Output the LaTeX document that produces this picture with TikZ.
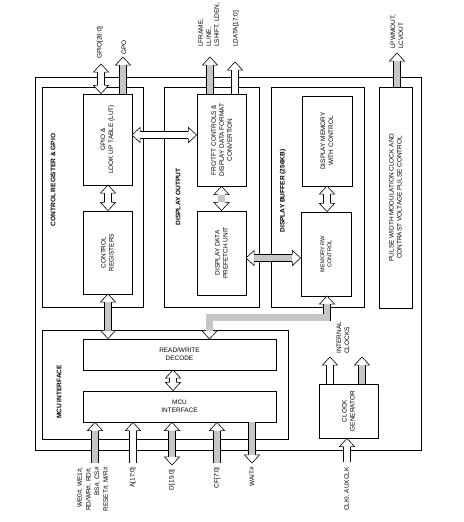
\documentclass[tikz,border=0pt]{standalone}
\usepackage{fontspec}
\setmainfont{Liberation Sans}
\usetikzlibrary{positioning,calc,fit}

\tikzset{
  blk/.style={draw, line width=0.7pt, inner sep=0pt},
  txt/.style={font=\fontsize{5.5}{6.8}\selectfont, align=center, inner sep=0pt},
  vtxt/.style={txt, rotate=90},
  ttl/.style={vtxt, font=\fontsize{5.6}{6.8}\selectfont\bfseries},
  pin/.style={txt, rotate=90, anchor=west, align=left},
  pinb/.style={txt, rotate=90, anchor=east, align=right},
  bus/.style={double=white, double distance=5.4pt, line width=0.5pt},
  busg/.style={bus, double=gray!45},
}

% open head of a fat bus arrow, #1 = point behind, #2 = tip
\newcommand\bushead[2]{%
  \coordinate (hb) at ($(#2)!7pt!(#1)$);
  \filldraw[fill=white, line width=0.5pt]
    ($(hb)!2.95pt!90:(#2)$) -- ($(hb)!6.5pt!90:(#2)$) -- (#2)
    -- ($(hb)!6.5pt!-90:(#2)$) -- ($(hb)!2.95pt!-90:(#2)$);
}
\newcommand\busone[3][bus]{%
  \draw[#1, shorten >=7pt] (#2) -- (#3); \bushead{#2}{#3}}
\newcommand\bustwo[3][bus]{%
  \draw[#1, shorten <=7pt, shorten >=7pt] (#2) -- (#3);
  \bushead{#2}{#3}\bushead{#3}{#2}}

\begin{document}
\begin{tikzpicture}[x=0.03cm, y=-0.03cm]
  \useasboundingbox (0,0) rectangle (463,522);

  % frames
  \node[blk, fit={(35,77) (421,450)}] (chip) {};
  \node[blk, fit={(42,87) (143,307)}] (ctrl) {};
  \node[blk, fit={(164,87) (259,307)}] (dout) {};
  \node[blk, fit={(271,87) (364,307)}] (dbuf) {};
  \node[blk, fit={(379,87) (412,308)}] (pwm) {};
  \node[blk, fit={(42,330) (288,439)}] (mcu) {};

  % blocks
  \node[blk, fit={(83,94) (132,185)}] (lut) {};
  \node[blk, fit={(83,211) (132,294)}] (creg) {};
  \node[blk, fit={(197,94) (246,186)}] (frc) {};
  \node[blk, fit={(197,211) (246,295)}] (pref) {};
  \node[blk, fit={(302,96) (352,186)}] (dmem) {};
  \node[blk, fit={(301,212) (351,296)}] (memrw) {};
  \node[blk, fit={(83,339) (276,370)}] (rwdec) {};
  \node[blk, fit={(83,391) (276,422)}] (mcuif) {};
  \node[blk, fit={(319,384) (378,438)}] (clkgen) {};

  % titles
  \node[ttl] (ctrl-t) at (53,180) {CONTROL REGISTER \& GPIO};
  \node[ttl] (dout-t) at (178,197) {DISPLAY OUTPUT};
  \node[ttl] (dbuf-t) at (283,191) {DISPLAY BUFFER (256KB)};
  \node[ttl] (mcu-t) at (59,392) {MCU INTERFACE};
  \node[vtxt] (pwm-t) at (pwm) {PULSE WIDTH MODULATION CLOCK AND\\CONTRAST VOLTAGE PULSE CONTROL};

  % block texts
  \node[vtxt] (lut-t) at (lut) {GPIO \&\\LOOK UP TABLE (LUT)};
  \node[vtxt] (creg-t) at (creg) {CONTROL\\REGISTERS};
  \node[vtxt] (frc-t) at (frc) {FRC/TFT CONTROLS \&\\DISPLAY DATA FORMAT\\CONVERTION};
  \node[vtxt] (pref-t) at (pref) {DISPLAY DATA\\PREFETCH UNIT};
  \node[vtxt] (dmem-t) at (dmem) {DISPLAY MEMORY\\WITH CONTROL};
  \node[vtxt, font=\fontsize{4.8}{6}\selectfont] (memrw-t) at (memrw) {MEMORY RW\\CONTROL};
  \node[txt] (rwdec-t) at (rwdec) {READ/WRITE\\DECODE};
  \node[txt] (mcuif-t) at (mcuif) {MCU\\INTERFACE};
  \node[vtxt] (clkgen-t) at (clkgen) {CLOCK\\GENERATOR};

  % bus end points
  \coordinate (gpiotip) at (101,64);  \coordinate (gpiobot) at (gpiotip |- lut.north);
  \coordinate (gpotip) at (123,57);   \coordinate (gpobot) at (gpotip |- lut.north);
  \coordinate (lutr) at (132,135);    \coordinate (frcl) at (lutr -| frc.west);
  \coordinate (lutb) at (108,185);    \coordinate (cregt) at (lutb |- creg.north);
  \coordinate (cregb) at (108,294);   \coordinate (rwdt) at (cregb |- rwdec.north);
  \coordinate (lftip) at (210,57);    \coordinate (lfbot) at (lftip |- frc.north);
  \coordinate (ldtip) at (235,62);    \coordinate (ldbot) at (ldtip |- frc.north);
  \coordinate (frcb) at (frc.south);  \coordinate (preft) at (pref.north);
  \coordinate (prefr) at (246,258);   \coordinate (memrwl) at (prefr -| memrw.west);
  \coordinate (dmemb) at (327,186);   \coordinate (memrwt) at (dmemb |- memrw.north);
  \coordinate (pwmtip) at (397,53);   \coordinate (pwmbot) at (pwmtip |- pwm.north);
  \coordinate (memrwb) at (327,296);
  \coordinate (e1) at (327,317.5);    \coordinate (e2) at (209.5,317.5);
  \coordinate (rwdt2) at (209.5,339);
  \coordinate (rwdb) at (173,370);    \coordinate (mcuift) at (rwdb |- mcuif.north);
  \coordinate (we) at (95,463);       \coordinate (wetip) at (we |- mcuif.south);
  \coordinate (adr) at (133,463);     \coordinate (adrtip) at (adr |- mcuif.south);
  \coordinate (dat) at (172,465);     \coordinate (dattop) at (dat |- mcuif.south);
  \coordinate (cf) at (217,463);      \coordinate (cftip) at (cf |- mcuif.south);
  \coordinate (wait) at (252,463);    \coordinate (waittop) at (wait |- mcuif.south);
  \coordinate (ick1) at (330,357);    \coordinate (ick1b) at (ick1 |- clkgen.north);
  \coordinate (ick2) at (362,357);    \coordinate (ick2b) at (ick2 |- clkgen.north);
  \coordinate (clki) at (347,462);    \coordinate (clkitip) at (clki |- clkgen.south);

  % buses
  \bustwo{gpiotip}{gpiobot}
  \busone[busg]{gpobot}{gpotip}
  \bustwo{lutr}{frcl}
  \bustwo{lutb}{cregt}
  \bustwo[busg]{cregb}{rwdt}
  \busone[busg]{lfbot}{lftip}
  \busone{ldbot}{ldtip}
  \bustwo[busg]{frcb}{preft}
  \bustwo[busg]{prefr}{memrwl}
  \bustwo{dmemb}{memrwt}
  \busone[busg]{pwmbot}{pwmtip}
  \draw[busg, shorten <=7pt, shorten >=7pt] (memrwb) -- (e1) -- (e2) -- (rwdt2);
  \bushead{e1}{memrwb}\bushead{e2}{rwdt2}
  \bustwo{rwdb}{mcuift}
  \busone[busg]{we}{wetip}
  \busone{adr}{adrtip}
  \bustwo[busg]{dattop}{dat}
  \busone[busg]{cf}{cftip}
  \busone[busg]{waittop}{wait}
  \busone{ick1b}{ick1}
  \busone[busg]{ick2b}{ick2}
  \busone{clki}{clkitip}

  % pin labels
  \node[pin] (gpio-l) at (100,59) {GPIO[26:0]};
  \node[pin] (gpo-l) at (124,55) {GPO};
  \node[pin] (lf-l) at (209,47) {LFRAME,\\LLINE,\\LSHIFT, LDEN,};
  \node[pin] (ld-l) at (236,47) {LDATA[17:0]};
  \node[pin] (pwm-l) at (397,49) {LPWMOUT,\\LCVOUT};
  \node[pin] (ick-l) at (343,354) {INTERNAL\\CLOCKS};
  \node[pinb, font=\fontsize{5.5}{7.4}\selectfont] (we-l) at (93,467) {WE0\#, WE1\#,\\RD/WR\#, RD\#,\\BS\#, CS\#\\RESET\#, M/R\#};
  \node[pinb] (adr-l) at (133,467) {A[17:0]};
  \node[pinb] (dat-l) at (172,469) {D[15:0]};
  \node[pinb] (cf-l) at (217,467) {CF[7:0]};
  \node[pinb] (wait-l) at (252,467) {WAIT\#};
  \node[pinb] (clki-l) at (347,467) {CLKI, AUXCLK};
\end{tikzpicture}
\end{document}
